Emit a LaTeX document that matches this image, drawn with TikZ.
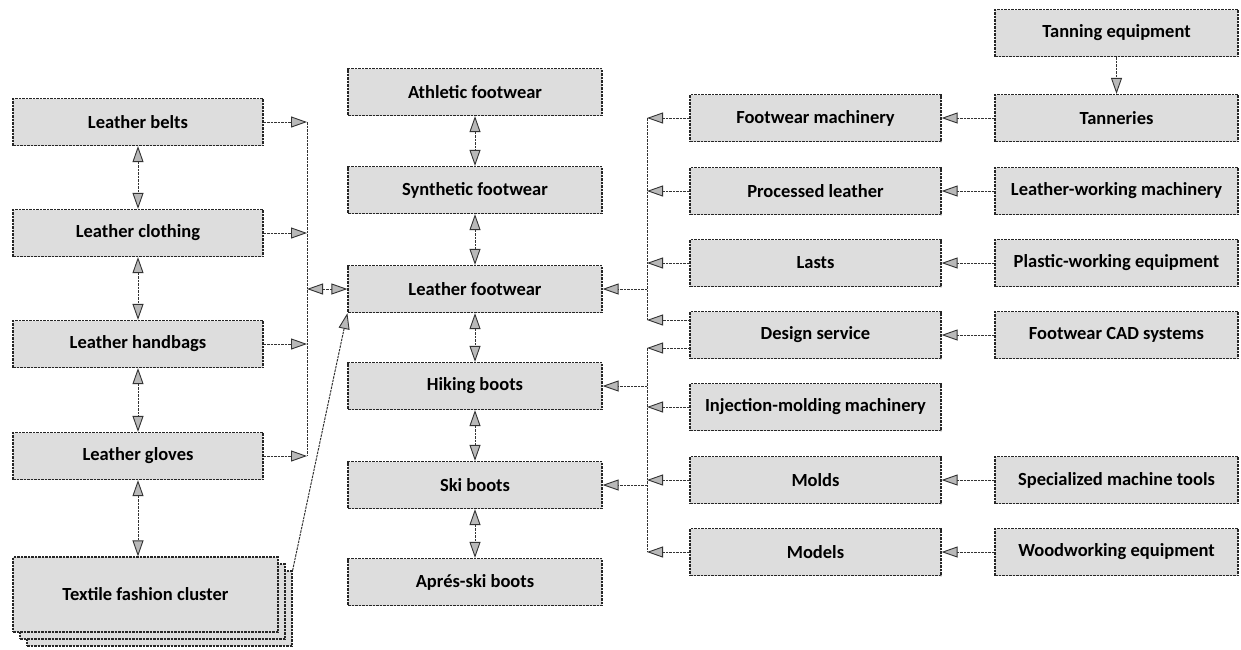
\documentclass[tikz,border=0pt]{standalone}
\usepackage{fontspec}
\setmainfont{Carlito}
\usetikzlibrary{arrows.meta}
\tikzset{
  box/.style={draw=black!85, dash pattern=on 2.5pt off 1pt, line width=1.2pt, fill=gray!27,
    inner sep=0pt, minimum height=47pt,
    font=\fontsize{18.5}{20}\selectfont\bfseries},
  lbox/.style={box, minimum width=250pt},
  mbox/.style={box, minimum width=254pt},
  rmbox/.style={box, minimum width=251pt},
  rbox/.style={box, minimum width=243pt},
  conn/.style={draw=black!80, dash pattern=on 2.5pt off 1pt, line width=1pt},
  tip/.tip={Triangle[length=16pt,width=11pt,fill=gray!55,line width=0.9pt]},
  one/.style={conn, -tip},
  two/.style={conn, tip-tip}
}
\begin{document}
\begin{tikzpicture}[x=1pt,y=-1pt]
\useasboundingbox (0,0) rectangle (1241,649);
% left column
\node[lbox] (belts)   at (138,122) {Leather belts};
\node[lbox] (cloth)   at (138,233) {Leather clothing};
\node[lbox] (bags)    at (138,344) {Leather handbags};
\node[lbox] (gloves)  at (138,456) {Leather gloves};
\node[box, minimum width=265pt, minimum height=75pt] (tex3) at (159.5,608.5) {};
\node[box, minimum width=265pt, minimum height=75pt] (tex2) at (152.5,601.5) {};
\node[box, minimum width=265pt, minimum height=75pt] (tex) at (145.5,594.5) {Textile fashion cluster};
% middle column
\node[mbox] (athl)  at (475,92)  {Athletic footwear};
\node[mbox] (synth) at (475,190) {Synthetic footwear};
\node[mbox] (lfoot) at (475,289) {Leather footwear};
\node[mbox] (hike)  at (475,386) {Hiking boots};
\node[mbox] (ski)   at (475,485) {Ski boots};
\node[mbox] (apres) at (475,582) {Aprés-ski boots};
% right-middle column
\node[rmbox] (fmach)  at (815.5,118) {Footwear machinery};
\node[rmbox] (pleath) at (815.5,191) {Processed leather};
\node[rmbox] (lasts)  at (815.5,263) {Lasts};
\node[rmbox] (dsgn)   at (815.5,335) {Design service};
\node[rmbox] (inj)    at (815.5,407) {Injection-molding machinery};
\node[rmbox] (molds)  at (815.5,480) {Molds};
\node[rmbox] (models) at (815.5,552) {Models};
% right column
\node[rbox] (taneq)  at (1116.5,33)  {Tanning equipment};
\node[rbox] (tann)   at (1116.5,118) {Tanneries};
\node[rbox] (lwm)    at (1116.5,191) {Leather-working machinery};
\node[rbox] (pwe)    at (1116.5,263) {Plastic-working equipment};
\node[rbox] (cad)    at (1116.5,335) {Footwear CAD systems};
\node[rbox] (smt)    at (1116.5,480) {Specialized machine tools};
\node[rbox] (wood)   at (1116.5,552) {Woodworking equipment};
% bus coordinates
\coordinate (lbus) at (307,289);
\coordinate (rbus) at (647,289);
\coordinate (dsA) at (690,320);
\coordinate (dsB) at (690,348);
% left column links
\draw[two] (belts.south) -- (cloth.north);
\draw[two] (cloth.south) -- (bags.north);
\draw[two] (bags.south) -- (gloves.north);
\draw[two] (gloves.south) -- (gloves.south |- tex.north);
\draw[conn] (belts -| lbus) -- (gloves -| lbus);
\draw[one] (belts.east) -- (belts -| lbus);
\draw[one] (cloth.east) -- (cloth -| lbus);
\draw[one] (bags.east) -- (bags -| lbus);
\draw[one] (gloves.east) -- (gloves -| lbus);
\draw[two] (lbus) -- (lfoot.west);
\draw[one] (tex3.north east) -- (lfoot.south west);
% middle column links
\draw[two] (athl.south) -- (synth.north);
\draw[two] (synth.south) -- (lfoot.north);
\draw[two] (lfoot.south) -- (hike.north);
\draw[two] (hike.south) -- (ski.north);
\draw[two] (ski.south) -- (apres.north);
% upper right bus
\draw[conn] (fmach -| rbus) -- (dsA -| rbus);
\draw[one] (fmach.west) -- (fmach -| rbus);
\draw[one] (pleath.west) -- (pleath -| rbus);
\draw[one] (lasts.west) -- (lasts -| rbus);
\draw[one] (dsA) -- (dsA -| rbus);
\draw[one] (rbus) -- (lfoot.east);
% lower right bus
\draw[conn] (dsB -| rbus) -- (models -| rbus);
\draw[one] (dsB) -- (dsB -| rbus);
\draw[one] (inj.west) -- (inj -| rbus);
\draw[one] (molds.west) -- (molds -| rbus);
\draw[one] (models.west) -- (models -| rbus);
\draw[one] (hike -| rbus) -- (hike.east);
\draw[one] (ski -| rbus) -- (ski.east);
% right column links
\draw[one] (taneq.south) -- (tann.north);
\draw[one] (tann.west) -- (fmach.east);
\draw[one] (lwm.west) -- (pleath.east);
\draw[one] (pwe.west) -- (lasts.east);
\draw[one] (cad.west) -- (dsgn.east);
\draw[one] (smt.west) -- (molds.east);
\draw[one] (wood.west) -- (models.east);
\end{tikzpicture}
\end{document}
